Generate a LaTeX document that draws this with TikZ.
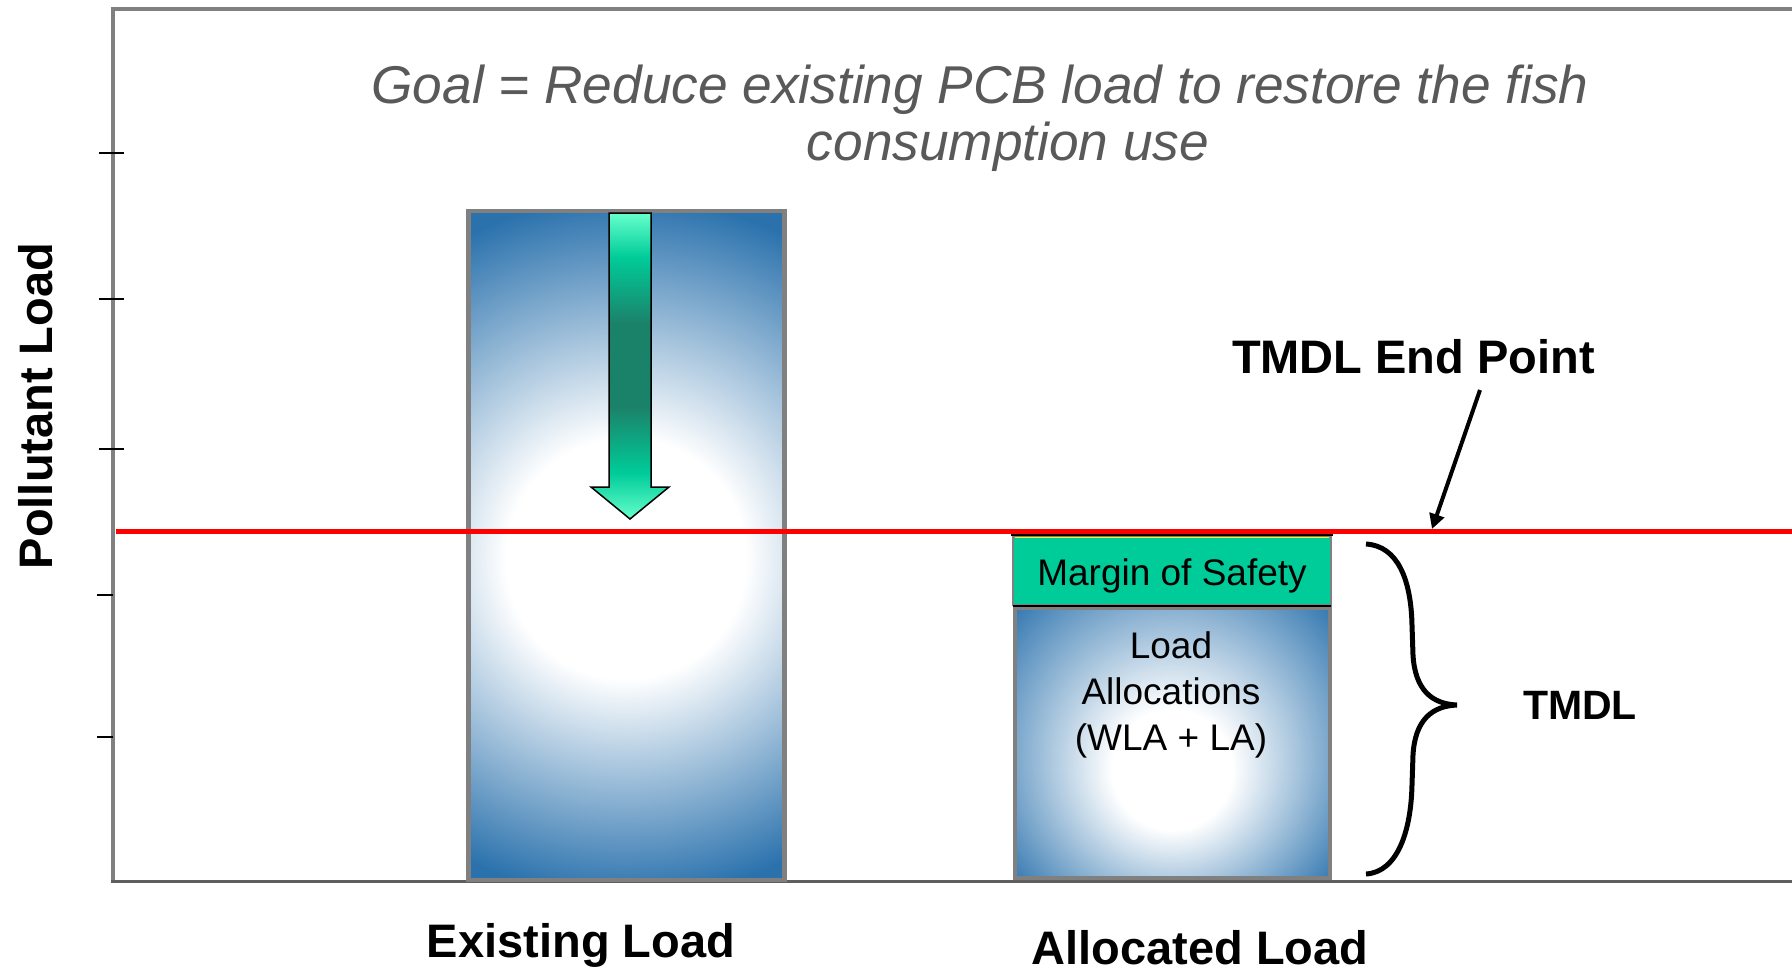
\documentclass[tikz,border=0pt]{standalone}
\usepackage{fontspec}
\setmainfont{Liberation Sans}
\usetikzlibrary{arrows.meta}
\definecolor{loadblue}{RGB}{43,114,173}
\definecolor{framegray}{RGB}{128,128,128}
\definecolor{axisdark}{RGB}{95,95,95}
\definecolor{goalgray}{RGB}{89,89,89}
\definecolor{mosgreen}{RGB}{0,204,153}
\definecolor{aqlight}{RGB}{102,255,204}
\definecolor{aqgreen}{RGB}{0,204,153}
\definecolor{aqdark}{RGB}{27,130,106}
\pgfdeclareradialshading{exshade}{\pgfpoint{0bp}{-2.5bp}}{color(0bp)=(white); color(6bp)=(white); color(17.5bp)=(loadblue); color(50bp)=(loadblue)}
\pgfdeclareradialshading{lashade}{\pgfpoint{0bp}{-8.4bp}}{color(0bp)=(white); color(5bp)=(white); color(18bp)=(loadblue); color(50bp)=(loadblue)}
\pgfdeclareverticalshading{arrowshade}{100bp}{color(0bp)=(aqlight); color(25bp)=(aqlight); color(32.5bp)=(aqgreen); color(43.3bp)=(aqdark); color(57bp)=(aqdark); color(67.8bp)=(aqgreen); color(75bp)=(aqlight); color(100bp)=(aqlight)}
\begin{document}
\begin{tikzpicture}[x=1pt,y=-1pt,
  frameline/.style={framegray, line width=4pt},
  tickline/.style={black, line width=1.5pt},
  boxborder/.style={framegray, line width=4.5pt},
  boldlabel/.style={anchor=base, inner sep=0pt, font=\bfseries\fontsize{47}{56}\selectfont},
  boxtext/.style={inner sep=0pt, font=\fontsize{37}{46}\selectfont},
  goaltext/.style={anchor=base, inner sep=0pt, text=goalgray, font=\itshape\fontsize{53.2}{57}\selectfont}]
\useasboundingbox (0,0) rectangle (1792,967);
\fill[white] (0,0) rectangle (1792,967);

% axes frame
\draw[frameline] (1794,9) -- (113,9) -- (113,881);
\draw[axisdark, line width=3pt] (111,881) -- (1794,881);
\foreach \yy in {153,299,449} \draw[tickline] (99,\yy) -- (124,\yy);
\foreach \yy in {595,737} \draw[tickline] (97,\yy) -- (113,\yy);

% existing load bar
\begin{scope}
  \clip (468.5,211) rectangle (784.5,880);
  \shade[shading=exshade] (126,15) rectangle (1126,1015);
\end{scope}
\draw[boxborder] (468.5,211) rectangle (784.5,880);

% allocated load: load allocations box
\begin{scope}
  \clip (1015,608) rectangle (1330,878);
  \shade[shading=lashade] (872,379) rectangle (1472,979);
\end{scope}
\draw[framegray, line width=4pt] (1015,608) rectangle (1330,878);

% margin of safety box
\fill[mosgreen] (1013,536) rectangle (1331,605);
\draw[framegray, line width=1.5pt] (1013,537) rectangle (1331,605);
\draw[black, line width=3pt] (1011,534) -- (1333,534);
\draw[yellow, line width=0.8pt] (1015,537.3) -- (1329,537.3);
\draw[black, line width=2pt] (1013,606) -- (1331,606);

% TMDL end point line
\draw[red, line width=5pt] (116,531) -- (1794,531);

% reduction arrow
\shadedraw[shading=arrowshade, draw=black, line width=1.5pt, line join=miter]
  (609,213) -- (651,213) -- (651,487) -- (669,487) -- (630,519) -- (591,487) -- (609,487) -- cycle;

% brace
\draw[black, line width=5pt]
  (1366,544) .. controls (1398,546) and (1411,580) .. (1412,625)
  -- (1413,655) .. controls (1415,690) and (1432,704) .. (1457,705)
  .. controls (1432,706) and (1415,720) .. (1413,755)
  -- (1412,785) .. controls (1411,830) and (1398,872) .. (1366,874);

% texts
\node[goaltext] (goalA) at (980,103) {Goal = Reduce existing PCB load to restore the fish};
\node[goaltext] (goalB) at (1008,160) {consumption use};
\node[boldlabel, rotate=90] (ylab) at (52,406) {Pollutant Load};
\node[boldlabel] (endpt) at (1413.5,373) {TMDL End Point};
\node[boldlabel, font=\bfseries\fontsize{41}{49}\selectfont] (tmdl) at (1580,719) {TMDL};
\node[boldlabel] (exist) at (581,957) {Existing Load};
\node[boldlabel] (alloc) at (1200,964) {Allocated Load};
\node[boxtext, anchor=base] (mos) at (1172,585) {Margin of Safety};
\node[boxtext, anchor=north, align=center] (la) at (1171,631.5) {Load\\Allocations\\(WLA + LA)};

% pointer to end point
\coordinate (epStart) at (1480,390);
\coordinate (epTip) at (1432,529);
\draw[black, line width=4pt, -{Triangle[length=15pt,width=15pt]}] (epStart) -- (epTip);
\end{tikzpicture}
\end{document}
